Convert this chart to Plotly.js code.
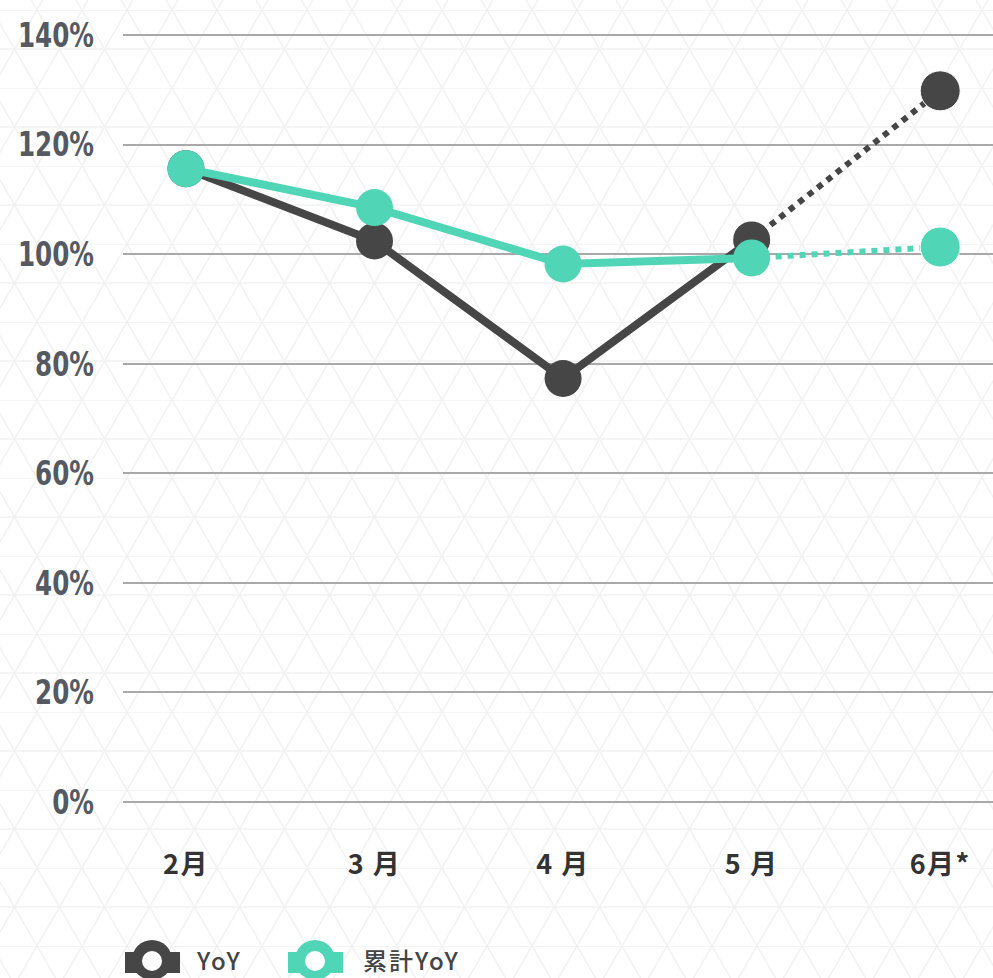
<!DOCTYPE html>
<html>
<head>
<meta charset="utf-8">
<script src="https://cdn.plot.ly/plotly-3.0.1.min.js"></script>
<style>
html,body{margin:0;padding:0;width:993px;height:978px;overflow:hidden;background-color:#ffffff;}
body{background-image:url("data:image/svg+xml;utf8,<svg xmlns='http://www.w3.org/2000/svg' width='45' height='78'><g stroke='%23f2f2f2' stroke-width='1.6' fill='none'><line x1='0' y1='0' x2='45' y2='78'/><line x1='45' y1='0' x2='0' y2='78'/><line x1='0' y1='39' x2='45' y2='39'/><line x1='0' y1='0' x2='45' y2='0'/></g></svg>");background-position:-8px 10px;}
#chart{width:993px;height:978px;}
.xtick text{letter-spacing:1.5px;}
.annotation-text{letter-spacing:2px;}
</style>
</head>
<body>
<div id="chart"></div>
<script>
const months = ["2月", "3 月", "4 月", "5 月", "6月*"];
const yoy = [115.6, 102.4, 77.3, 102.6, 129.8];
const cumYoy = [115.6, 108.5, 98.2, 99.3, 101.3];
const yTicks = [0, 20, 40, 60, 80, 100, 120, 140];
const yTickText = yTicks.map(v => v + "%");
const seriesNames = ["YoY", "累計YoY"];

const dark = "#464646";
const teal = "#50d6b6";
const solidN = 4;

function solid(vals, color) {
  return {
    type: "scatter", mode: "lines+markers",
    x: months.slice(0, solidN), y: vals.slice(0, solidN),
    line: {color: color, width: 8}, marker: {color: color, size: 37, opacity: 1},
    showlegend: false, hoverinfo: "skip", cliponaxis: false
  };
}
function dotted(vals, color) {
  return {
    type: "scatter", mode: "lines+markers",
    x: months.slice(solidN - 1), y: vals.slice(solidN - 1),
    line: {color: color, width: 6, dash: "dot"},
    marker: {color: color, size: [0, 40], opacity: 1},
    showlegend: false, hoverinfo: "skip", cliponaxis: false
  };
}

const data = [
  dotted(yoy, dark), solid(yoy, dark),
  dotted(cumYoy, teal), solid(cumYoy, teal)
];

// legend drawn as layout shapes (pixel -> paper helpers)
const L = 123, W = 870, T = 24, H = 789;
const px = v => (v - L) / W;
const py = v => (T + H - v) / H;
const shapes = [];
const annotations = [];
[[125, dark, 195], [288, teal, 362]].forEach(([x0, c, tx], i) => {
  const cx = x0 + 27;
  shapes.push({type: "rect", xref: "paper", yref: "paper", x0: px(x0), x1: px(x0 + 55), y0: py(952), y1: py(973), fillcolor: c, line: {width: 0}, layer: "above"});
  shapes.push({type: "circle", xref: "paper", yref: "paper", x0: px(cx - 20), x1: px(cx + 20), y0: py(940), y1: py(980), fillcolor: c, line: {width: 0}, layer: "above"});
  shapes.push({type: "circle", xref: "paper", yref: "paper", x0: px(cx - 10), x1: px(cx + 10), y0: py(951), y1: py(971), fillcolor: "#ffffff", line: {width: 0}, layer: "above"});
  annotations.push({xref: "paper", yref: "paper", x: px(tx), y: py(960), xanchor: "left", yanchor: "middle", showarrow: false, borderpad: 0, text: seriesNames[i], font: {family: "Noto Sans CJK JP, sans-serif", size: 24, color: "#444444", weight: 500}});
});

const layout = {
  width: 993, height: 978,
  margin: {l: L, r: 0, t: T, b: 978 - T - H},
  paper_bgcolor: "rgba(0,0,0,0)", plot_bgcolor: "rgba(0,0,0,0)",
  showlegend: false,
  xaxis: {
    type: "category", categoryorder: "array", categoryarray: months,
    range: [-0.334, 4.28],
    showgrid: false, zeroline: false, showline: false, ticks: "",
    ticklabelstandoff: 33,
    tickfont: {family: "Noto Sans CJK JP, sans-serif", size: 27, color: "#333333", weight: "bold"},
    fixedrange: true
  },
  yaxis: {
    range: [-2, 142], tickvals: yTicks, ticktext: yTickText,
    showgrid: true, gridcolor: "#a9a9a9", gridwidth: 2,
    zeroline: false, showline: false, ticks: "",
    ticklabelstandoff: 28,
    tickfont: {family: "DejaVu Sans Condensed, sans-serif", size: 34, color: "#555a62", weight: "bold"},
    fixedrange: true
  },
  shapes: shapes,
  annotations: annotations
};

Plotly.newPlot("chart", data, layout, {displayModeBar: false, staticPlot: true}).then(() => {
  // narrow the bold tick labels horizontally (condensed look of the original)
  const labels = document.querySelectorAll(".ytick text");
  let ref = 0;
  labels.forEach(t => { if (t.textContent === "100%") ref = t.getComputedTextLength(); });
  const f = ref ? 76 / ref : 1;
  labels.forEach(t => {
    const w = t.getComputedTextLength();
    t.setAttribute("textLength", (w * f).toFixed(1));
    t.setAttribute("lengthAdjust", "spacingAndGlyphs");
  });
});
</script>
</body>
</html>
